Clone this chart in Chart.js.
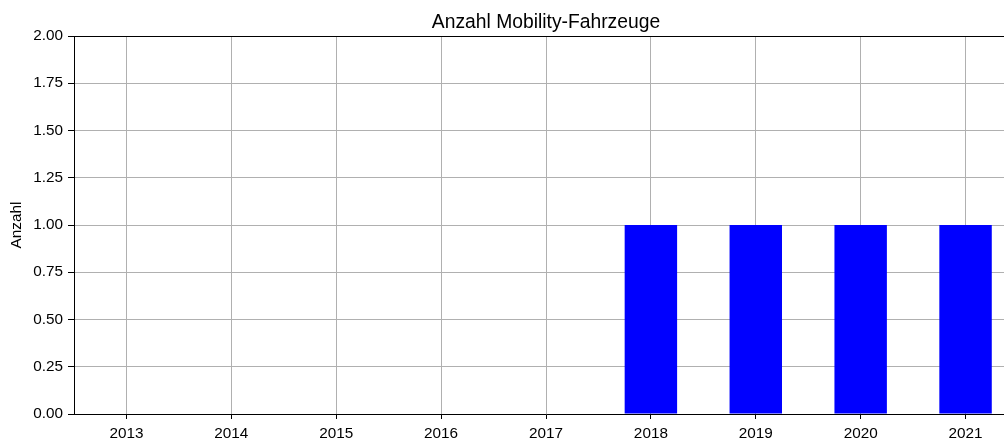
<!DOCTYPE html>
<html>
<head>
<meta charset="utf-8">
<script src="https://cdn.jsdelivr.net/npm/chart.js@4"></script>
<style>
  html, body { margin: 0; padding: 0; background: #fff; overflow: hidden; }
  #chart { display: block; }
</style>
</head>
<body>
<canvas id="chart" width="1018" height="441"></canvas>
<script>
const years = ['2013', '2014', '2015', '2016', '2017', '2018', '2019', '2020', '2021'];
const counts = [0, 0, 0, 0, 0, 1, 1, 1, 1];
const yTicks = [0, 0.25, 0.5, 0.75, 1, 1.25, 1.5, 1.75, 2];

const FONT = 'Liberation Sans, Arial, sans-serif';
const chartTitle = 'Anzahl Mobility-Fahrzeuge';

// title over the plot area + the top spine matplotlib draws
const framePlugin = {
    id: 'frame',
    afterDraw(chart) {
        const { ctx, chartArea: a } = chart;
        ctx.save();
        ctx.strokeStyle = '#000';
        ctx.lineWidth = 1;
        ctx.beginPath();
        ctx.moveTo(a.left, a.top + 0.5);
        ctx.lineTo(a.right, a.top + 0.5);
        ctx.stroke();
        ctx.fillStyle = '#000';
        ctx.font = '19.3px ' + FONT;
        ctx.textAlign = 'center';
        ctx.textBaseline = 'alphabetic';
        ctx.fillText(chartTitle, (a.left + a.right) / 2, 28);
        ctx.restore();
    }
};

new Chart(document.getElementById('chart').getContext('2d'), {
    type: 'bar',
    data: {
        labels: years,
        datasets: [{
            label: 'Anzahl',
            data: counts,
            backgroundColor: '#0000ff',
            borderWidth: 0,
            barPercentage: 0.5,
            categoryPercentage: 1
        }]
    },
    options: {
        responsive: false,
        animation: false,
        layout: { padding: { left: 0, top: 36, right: 0, bottom: 0 } },
        plugins: { legend: { display: false }, tooltip: { enabled: false } },
        scales: {
            x: {
                offset: true,
                grid: { offset: false, color: '#b0b0b0', lineWidth: 1, tickLength: 5, tickColor: '#000' },
                border: { color: '#000', width: 1 },
                ticks: { color: '#000', font: { family: FONT, size: 15.3 }, padding: 6, maxRotation: 0 },
                afterFit(scale) { scale.height = 27; }
            },
            y: {
                min: 0,
                max: 2,
                afterBuildTicks(scale) { scale.ticks = yTicks.map(v => ({ value: v })); },
                grid: { color: '#b0b0b0', lineWidth: 1, tickLength: 6, tickColor: '#000' },
                border: { color: '#000', width: 1 },
                ticks: {
                    color: '#000',
                    font: { family: FONT, size: 15.3 },
                    padding: 5,
                    callback: v => Number(v).toFixed(2)
                },
                title: {
                    display: true,
                    text: 'Anzahl',
                    color: '#000',
                    font: { family: FONT, size: 15.3 },
                    padding: { top: 8, bottom: 0 }
                },
                afterFit(scale) { scale.width = 74; }
            }
        }
    },
    plugins: [framePlugin]
});
</script>
</body>
</html>
